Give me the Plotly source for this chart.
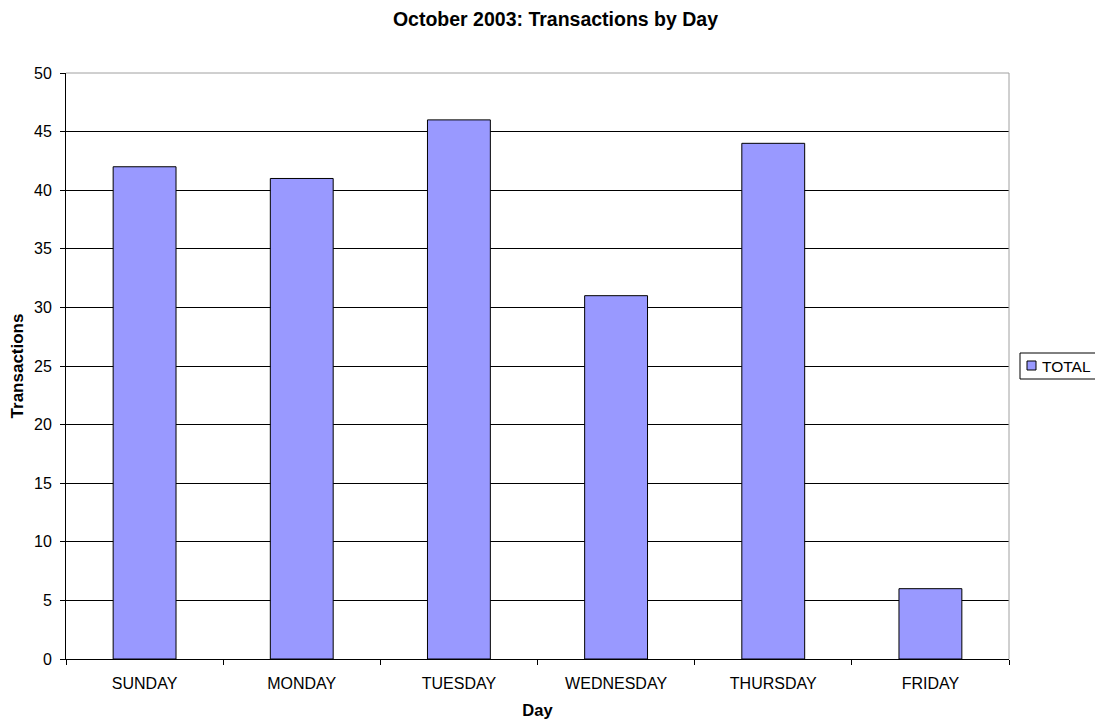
import plotly.graph_objects as go

days = ["SUNDAY", "MONDAY", "TUESDAY", "WEDNESDAY", "THURSDAY", "FRIDAY"]
totals = [42, 41, 46, 31, 44, 6]
series_name = "TOTAL"
bar_color = "#9999FF"

FONT = "Liberation Sans, Arial"
OFF = 8  # page body margin
L, R, T, B = 66 - OFF, 1009 - OFF, 73 - OFF, 659 - OFF
W, H = 1103 - OFF, 725 - OFF


def px(x):
    return (x - OFF - L) / (R - L)


def py(y):
    return (B - (y - OFF)) / (B - T)


fig = go.Figure()
fig.add_trace(go.Bar(
    x=days, y=totals, name=series_name,
    marker=dict(color=bar_color, line=dict(color="black", width=1)),
    width=0.4, showlegend=False,
))

fig.update_layout(
    width=W, height=H,
    paper_bgcolor="white", plot_bgcolor="white",
    margin=dict(l=L, r=W - R, t=T, b=H - B, autoexpand=False),
    title=dict(text="<b>October 2003: Transactions by Day</b>", x=0.5, xanchor="center",
               y=1 - (19 - OFF) / H, yanchor="middle",
               font=dict(size=19.5, family=FONT, color="black")),
    font=dict(size=16, family=FONT, color="black"),
    showlegend=False,
)
fig.update_xaxes(
    title=dict(text="<b>Day</b>", font=dict(size=16.5, family=FONT, color="black"), standoff=13),
    showline=True, linecolor="black", linewidth=1,
    ticks="outside", tickson="boundaries", ticklen=5, tickcolor="black",
    ticklabelstandoff=10,
    tickfont=dict(size=16, family=FONT, color="black"), automargin=False,
)
fig.update_yaxes(
    title=dict(text="<b>Transactions</b>", font=dict(size=17, family=FONT, color="black"), standoff=7),
    range=[0, 50], dtick=5, showgrid=True, gridcolor="black", gridwidth=1,
    showline=True, linecolor="black", linewidth=1,
    ticks="outside", ticklen=5, tickcolor="black",
    ticklabelstandoff=5,
    tickfont=dict(size=16, family=FONT, color="black"), zeroline=False, automargin=False,
)
# plot area border (top/right gray)
fig.add_shape(type="line", xref="paper", yref="paper", x0=0, x1=1, y0=1, y1=1,
              line=dict(color="#A0A0A0", width=1))
fig.add_shape(type="line", xref="paper", yref="paper", x0=1, x1=1, y0=0, y1=1,
              line=dict(color="#A0A0A0", width=1))

# legend box
fig.add_shape(type="rect", xref="paper", yref="paper",
              x0=px(1020), x1=px(1100), y0=py(379), y1=py(353),
              line=dict(color="black", width=1), fillcolor="white")
fig.add_shape(type="rect", xref="paper", yref="paper",
              x0=px(1027), x1=px(1036), y0=py(370), y1=py(361),
              line=dict(color="black", width=1), fillcolor=bar_color)
fig.add_annotation(xref="paper", yref="paper", x=px(1040), y=py(366),
                   xanchor="left", yanchor="middle", showarrow=False,
                   text=series_name, font=dict(size=15.5, family=FONT, color="black"))

fig.write_html("out.html")
